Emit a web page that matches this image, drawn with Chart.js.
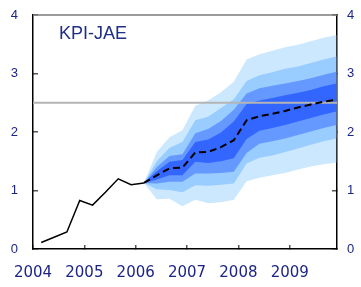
<!DOCTYPE html>
<html>
<head>
<meta charset="utf-8">
<script src="https://cdn.jsdelivr.net/npm/chart.js@4/dist/chart.umd.min.js"></script>
<style>
html,body{margin:0;padding:0;background:#fff;}
#wrap{position:relative;width:361px;height:287px;}
</style>
</head>
<body>
<div id="wrap"><canvas id="c"></canvas></div>
<script>
// ---- data ----
const chartTitle = "KPI-JAE";
const yearTicks = [2004, 2005, 2006, 2007, 2008, 2009];
const valueTicks = [0, 1, 2, 3, 4];
const targetLevel = 2.5;

const histX = [2004.16, 2004.41, 2004.66, 2004.91, 2005.16, 2005.41, 2005.66, 2005.91, 2006.16];
const histY = [0.11, 0.20, 0.29, 0.83, 0.75, 0.97, 1.20, 1.10, 1.13];

const fcX = [2006.16, 2006.41, 2006.66, 2006.91, 2007.16, 2007.41, 2007.66, 2007.91,
             2008.16, 2008.41, 2008.66, 2008.91, 2009.16, 2009.41, 2009.66, 2009.91];
const median  = [1.13, 1.26, 1.38, 1.39, 1.65, 1.66, 1.74, 1.86, 2.20, 2.27, 2.31, 2.36, 2.42, 2.47, 2.52, 2.55];
const outerHi = [1.13, 1.66, 1.91, 2.03, 2.45, 2.54, 2.68, 2.86, 3.24, 3.33, 3.39, 3.45, 3.49, 3.55, 3.61, 3.66];
const band2Hi = [1.13, 1.50, 1.73, 1.83, 2.20, 2.26, 2.41, 2.56, 2.87, 2.97, 3.02, 3.08, 3.12, 3.18, 3.24, 3.29];
const band1Hi = [1.13, 1.40, 1.59, 1.62, 1.98, 2.05, 2.19, 2.38, 2.66, 2.75, 2.79, 2.83, 2.87, 2.92, 2.98, 3.03];
const darkHi  = [1.13, 1.33, 1.49, 1.52, 1.83, 1.87, 1.99, 2.18, 2.48, 2.54, 2.58, 2.63, 2.67, 2.72, 2.78, 2.83];
const darkLo  = [1.13, 1.19, 1.26, 1.26, 1.49, 1.47, 1.50, 1.55, 1.88, 2.02, 2.07, 2.12, 2.18, 2.24, 2.30, 2.35];
const band1Lo = [1.13, 1.12, 1.15, 1.15, 1.29, 1.29, 1.30, 1.32, 1.64, 1.80, 1.84, 1.89, 1.95, 2.01, 2.07, 2.12];
const band2Lo = [1.13, 1.02, 1.01, 0.97, 1.09, 1.08, 1.10, 1.12, 1.46, 1.56, 1.60, 1.66, 1.72, 1.78, 1.84, 1.89];
const outerLo = [1.13, 0.85, 0.86, 0.73, 0.84, 0.78, 0.80, 0.84, 1.16, 1.22, 1.26, 1.30, 1.36, 1.41, 1.45, 1.48];

// ---- helpers ----
const pts = (xs, ys) => xs.map((x, i) => ({x: x, y: ys[i]}));
const X_MIN = yearTicks[0], X_MAX = 2009.92;
const Y_MIN = valueTicks[0], Y_MAX = valueTicks[valueTicks.length - 1];

const C_OUT = '#cce8ff', C_B2 = '#99ccff', C_B1 = '#6699ff', C_DARK = '#3366ff';
const NAVY = '#1c2587';

function edge(data, order, fillTarget, color) {
  return {
    data: data, order: order, borderWidth: 0, pointRadius: 0, tension: 0,
    borderColor: 'rgba(0,0,0,0)', backgroundColor: color,
    fill: fillTarget === null ? false : {target: fillTarget}
  };
}

const datasets = [
  {data: pts(histX, histY), order: 0, borderColor: '#000', borderWidth: 1.5, pointRadius: 0, tension: 0, fill: false},
  {data: pts(fcX, median), order: 0, borderColor: '#000', borderWidth: 2, borderDash: [7, 4], pointRadius: 0, tension: 0, fill: false},
  {data: [{x: X_MIN, y: targetLevel}, {x: X_MAX, y: targetLevel}], order: 0.5, borderColor: '#b4b4b4', borderWidth: 2, pointRadius: 0, fill: false},
  edge(pts(fcX, darkHi), 1, 4, C_DARK),
  edge(pts(fcX, darkLo), 1, null, C_DARK),
  edge(pts(fcX, band1Hi), 2, 6, C_B1),
  edge(pts(fcX, band1Lo), 2, null, C_B1),
  edge(pts(fcX, band2Hi), 3, 8, C_B2),
  edge(pts(fcX, band2Lo), 3, null, C_B2),
  edge(pts(fcX, outerHi), 4, 10, C_OUT),
  edge(pts(fcX, outerLo), 4, null, C_OUT)
];

const framePlugin = {
  id: 'frameAndTitle',
  afterDraw(chart) {
    const ctx = chart.ctx, a = chart.chartArea;
    ctx.save();
    // top frame line
    ctx.strokeStyle = '#7a7a7a';
    ctx.lineWidth = 1.5;
    ctx.beginPath();
    ctx.moveTo(a.left, a.top);
    ctx.lineTo(a.right, a.top);
    ctx.stroke();
    // title inside the plot
    ctx.font = '18px "Liberation Sans", Arial, sans-serif';
    ctx.fillStyle = '#1f2e86';
    ctx.textAlign = 'left';
    ctx.textBaseline = 'middle';
    ctx.fillText(chartTitle, a.left + 26, a.top + 19);
    ctx.restore();
  }
};

const yTickFont = {family: '"Liberation Sans", Arial, sans-serif', size: 13};

function fixV(w) {
  return function(s) { s.width = w; s.paddingTop = 0; s.paddingBottom = 0; };
}

new Chart(document.getElementById('c'), {
  type: 'line',
  data: {datasets: datasets},
  plugins: [framePlugin],
  options: {
    responsive: true, maintainAspectRatio: false, animation: false,
    layout: {padding: {top: 15, left: 0, right: 0, bottom: 0}},
    plugins: {legend: {display: false}, tooltip: {enabled: false}, title: {display: false}},
    scales: {
      x: {
        type: 'linear', position: 'bottom', min: X_MIN, max: X_MAX,
        afterFit(s) { s.height = 38; s.paddingLeft = 0; s.paddingRight = 0; },
        afterBuildTicks(s) { s.ticks = yearTicks.map(v => ({value: v})); },
        ticks: {includeBounds: false, padding: 19, color: NAVY, maxRotation: 0, autoSkip: false,
                font: {family: '"DejaVu Sans", sans-serif', size: 15},
                callback: v => String(v)},
        grid: {drawOnChartArea: false, drawTicks: true, tickLength: -4, color: '#555', lineWidth: 1.5},
        border: {display: true, color: '#000', width: 1.5}
      },
      y: {
        type: 'linear', position: 'left', min: Y_MIN, max: Y_MAX,
        afterFit: fixV(33),
        afterBuildTicks(s) { s.ticks = valueTicks.map(v => ({value: v})); },
        ticks: {padding: 20, color: NAVY, font: yTickFont, callback: v => String(v)},
        grid: {drawOnChartArea: false, drawTicks: true, tickLength: -5, color: '#555', lineWidth: 1.5},
        border: {display: true, color: '#000', width: 1.5}
      },
      y2: {
        type: 'linear', position: 'right', min: Y_MIN, max: Y_MAX,
        afterFit: fixV(24),
        afterBuildTicks(s) { s.ticks = valueTicks.map(v => ({value: v})); },
        ticks: {padding: 15, color: NAVY, font: yTickFont, callback: v => String(v)},
        grid: {drawOnChartArea: false, drawTicks: true, tickLength: -5, color: '#555', lineWidth: 1.5},
        border: {display: true, color: '#000', width: 1.5}
      }
    }
  }
});
</script>
</body>
</html>
